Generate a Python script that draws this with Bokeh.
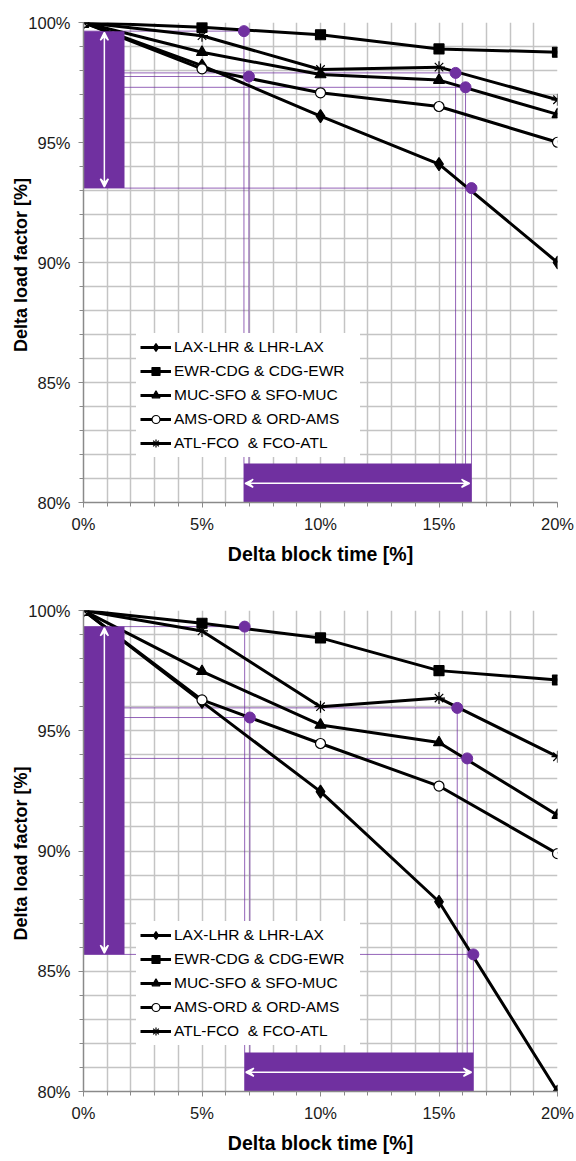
from bokeh.plotting import figure
from bokeh.models import (Range1d, FixedTicker, Legend, LegendItem, Arrow, VeeHead,
                          CustomJSTickFormatter)
from bokeh.layouts import column
from bokeh.embed import file_html
from bokeh.resources import INLINE

# ---------------- data ----------------
block_time = [0, 5, 10, 15, 20]
route_labels = ["LAX-LHR & LHR-LAX", "EWR-CDG & CDG-EWR", "MUC-SFO & SFO-MUC",
                "AMS-ORD & ORD-AMS", "ATL-FCO  & FCO-ATL"]

top_lax = [100, 98.2, 96.1, 94.1, 90.0]
top_ewr = [100, 99.8, 99.49, 98.9, 98.76]
top_muc = [100, 98.76, 97.83, 97.6, 96.17]
top_ams = [100, 98.07, 97.07, 96.5, 95.01]
top_atl = [100, 99.45, 98.04, 98.14, 96.78]
top_mark_x = [6.77, 6.98, 15.7, 16.12, 16.37]
top_mark_y = [99.64, 97.75, 97.9, 97.3, 93.1]

bot_lax = [100, 96.2, 92.47, 87.89, 80.0]
bot_ewr = [100, 99.47, 98.86, 97.5, 97.11]
bot_muc = [100, 97.47, 95.24, 94.51, 91.49]
bot_ams = [100, 96.28, 94.47, 92.7, 89.89]
bot_atl = [100, 99.15, 96.0, 96.36, 93.92]
bot_mark_x = [6.8, 7.02, 15.77, 16.19, 16.45]
bot_mark_y = [99.33, 95.55, 95.95, 93.85, 85.7]

x_ticks = [0, 5, 10, 15, 20]
y_ticks = [80, 85, 90, 95, 100]

PURPLE = "#7030A0"
FONT = "Liberation Sans"
GRID = "#c4c4c4"
AXIS = "#8a8a8a"

marker_styles = [
    dict(marker="diamond", size=13, fill_color="black", lw=1.2),
    dict(marker="square", size=10, fill_color="black", lw=1.2),
    dict(marker="triangle", size=11, fill_color="black", lw=1.2),
    dict(marker="circle", size=10, fill_color="white", lw=1.2),
    dict(marker="asterisk", size=12, fill_color="black", lw=1.2),
]


def make_chart(series, mark_x, mark_y, height, top_b, bottom_b, legend_y):
    p = figure(width=576, height=height, output_backend="svg", toolbar_location=None,
               x_range=Range1d(0, 20), y_range=Range1d(80, 100),
               min_border_left=83, min_border_right=19,
               min_border_top=top_b, min_border_bottom=bottom_b)
    p.outline_line_color = None
    p.background_fill_color = "white"
    p.border_fill_color = "white"

    # grid every 1 %
    p.xgrid.ticker = FixedTicker(ticks=list(range(0, 21)))
    p.ygrid.ticker = FixedTicker(ticks=list(range(80, 101)))
    for g in (p.xgrid, p.ygrid):
        g.grid_line_color = GRID
        g.grid_line_width = 1.5

    p.xaxis.ticker = FixedTicker(ticks=x_ticks, minor_ticks=list(range(0, 21)))
    p.yaxis.ticker = FixedTicker(ticks=y_ticks, minor_ticks=list(range(80, 101)))
    fmt = CustomJSTickFormatter(code="return tick.toFixed(0) + '%';")
    for ax in (p.xaxis, p.yaxis):
        ax.formatter = fmt
        ax.axis_line_color = AXIS
        ax.axis_line_width = 1.5
        ax.major_tick_line_color = AXIS
        ax.minor_tick_line_color = AXIS
        ax.major_tick_out = 5
        ax.minor_tick_out = 4
        ax.major_tick_in = 0
        ax.minor_tick_in = 0
        ax.major_label_text_font = FONT
        ax.major_label_text_font_size = "16.5px"
        ax.major_label_text_color = "#1a1a1a"
        ax.axis_label_text_font = FONT
        ax.axis_label_text_font_style = "bold"
        ax.axis_label_text_color = "black"
    p.xaxis.axis_label_text_font_size = "19.5px"
    p.yaxis.axis_label_text_font_size = "18px"
    p.xaxis.axis_label = "Delta block time [%]"
    p.yaxis.axis_label = "Delta  load factor [%]"
    p.xaxis.major_label_standoff = 7
    p.xaxis.axis_label_standoff = 7
    p.yaxis.major_label_standoff = 8
    p.yaxis.axis_label_standoff = -6

    # guide lines from highlighted points
    p.segment(x0=[0] * len(mark_x), y0=mark_y, x1=mark_x, y1=mark_y,
              line_color=PURPLE, line_width=1, line_alpha=0.75)
    p.segment(x0=mark_x, y0=mark_y, x1=mark_x, y1=[80] * len(mark_x),
              line_color=PURPLE, line_width=1, line_alpha=0.75)

    items = []
    for vals, lab, st in zip(series, route_labels, marker_styles):
        lr = p.line(block_time, vals, line_color="black", line_width=3)
        sr = p.scatter(block_time, vals, marker=st["marker"], size=st["size"],
                       fill_color=st["fill_color"], line_color="black",
                       line_width=st["lw"])
        items.append(LegendItem(label=lab, renderers=[lr, sr]))

    # range rectangles
    p.quad(left=[0], right=[1.73], bottom=[min(mark_y)], top=[max(mark_y)],
           fill_color=PURPLE, line_color=None)
    p.quad(left=[min(mark_x)], right=[max(mark_x)], bottom=[80], top=[81.62],
           fill_color=PURPLE, line_color=None)

    p.scatter(mark_x, mark_y, marker="circle", size=11, fill_color=PURPLE,
              line_color=PURPLE)

    head = dict(size=8, line_color="white", line_width=1.5, fill_color="white")
    p.add_layout(Arrow(x_start=0.88, y_start=max(mark_y) - 0.05, x_end=0.88,
                       y_end=min(mark_y) + 0.05, line_color="white", line_width=1.5,
                       start=VeeHead(**head), end=VeeHead(**head)))
    p.add_layout(Arrow(x_start=min(mark_x) + 0.05, y_start=80.8,
                       x_end=max(mark_x) - 0.08, y_end=80.8,
                       line_color="white", line_width=1.5,
                       start=VeeHead(**head), end=VeeHead(**head)))

    legend = Legend(items=items, location=(53, legend_y))
    legend.label_text_font = FONT
    legend.label_text_font_size = "15.5px"
    legend.label_text_color = "black"
    legend.glyph_width = 31
    legend.glyph_height = 20
    legend.label_height = 20
    legend.label_width = 182
    legend.spacing = 4
    legend.padding = 4
    legend.margin = 0
    legend.label_standoff = 3
    legend.border_line_alpha = 0
    legend.background_fill_color = "white"
    legend.background_fill_alpha = 1
    p.add_layout(legend)
    return p


p1 = make_chart([top_lax, top_ewr, top_muc, top_ams, top_atl], top_mark_x, top_mark_y,
                590, 22, 88, 45)
p2 = make_chart([bot_lax, bot_ewr, bot_muc, bot_ams, bot_atl], bot_mark_x, bot_mark_y,
                570, 20, 69, 46)

layout = column(p1, p2)
open("out.html", "w").write(file_html(layout, INLINE))
